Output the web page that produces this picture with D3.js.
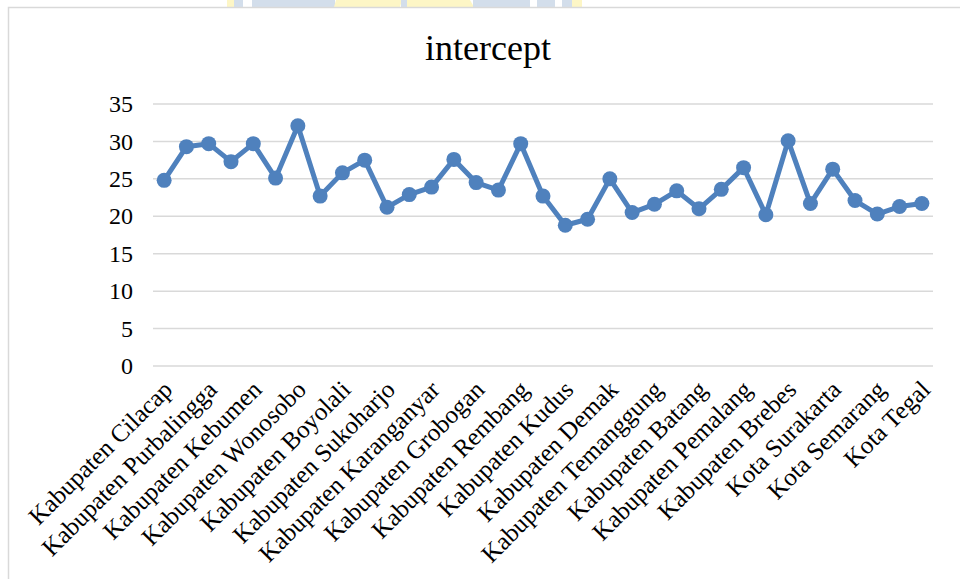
<!DOCTYPE html>
<html>
<head>
<meta charset="utf-8">
<script src="https://cdn.jsdelivr.net/npm/d3@7"></script>
<style>
  html, body { margin: 0; padding: 0; background: #ffffff; }
  svg { display: block; }
  text { font-family: "Liberation Serif", "Times New Roman", serif; fill: #000; }
</style>
</head>
<body>
<svg id="chart" width="960" height="579"></svg>
<script>
// Regencies and cities of Central Java, in their official order
const categories = [
  "Kabupaten Cilacap", "Kabupaten Banyumas", "Kabupaten Purbalingga", "Kabupaten Banjarnegara",
  "Kabupaten Kebumen", "Kabupaten Purworejo", "Kabupaten Wonosobo", "Kabupaten Magelang",
  "Kabupaten Boyolali", "Kabupaten Klaten", "Kabupaten Sukoharjo", "Kabupaten Wonogiri",
  "Kabupaten Karanganyar", "Kabupaten Sragen", "Kabupaten Grobogan", "Kabupaten Blora",
  "Kabupaten Rembang", "Kabupaten Pati", "Kabupaten Kudus", "Kabupaten Jepara",
  "Kabupaten Demak", "Kabupaten Semarang", "Kabupaten Temanggung", "Kabupaten Kendal",
  "Kabupaten Batang", "Kabupaten Pekalongan", "Kabupaten Pemalang", "Kabupaten Tegal",
  "Kabupaten Brebes", "Kota Magelang", "Kota Surakarta", "Kota Salatiga",
  "Kota Semarang", "Kota Pekalongan", "Kota Tegal"
];

// Intercept estimate for each region
const intercept = [
  24.8, 29.3, 29.7, 27.3, 29.7, 25.1, 32.1, 22.7,
  25.8, 27.5, 21.2, 22.9, 23.9, 27.6, 24.5, 23.5,
  29.7, 22.7, 18.8, 19.6, 25.0, 20.5, 21.6, 23.4,
  21.0, 23.6, 26.5, 20.2, 30.1, 21.7, 26.3, 22.1,
  20.3, 21.3, 21.7
];

const yTicks = [0, 5, 10, 15, 20, 25, 30, 35];
const title = "intercept";

const svg = d3.select("#chart");
const W = 960, H = 579;
const plot = { left: 153, right: 933, top: 104, bottom: 366 };

// Faint logo shapes peeking above the chart frame
const deco = svg.append("g");
const lb = "#d3deeb", yl = "#fdf6c6";
deco.append("rect").attr("x", 227).attr("y", 0).attr("width", 7).attr("height", 7).attr("fill", yl);
deco.append("rect").attr("x", 234).attr("y", 0).attr("width", 9).attr("height", 7).attr("fill", lb);
deco.append("rect").attr("x", 252).attr("y", 0).attr("width", 83).attr("height", 7).attr("fill", lb);
deco.append("path").attr("d", "M336,0 L402,0 L400,7 L334,7 Z").attr("fill", yl);
deco.append("rect").attr("x", 401).attr("y", 0).attr("width", 6).attr("height", 7).attr("fill", lb);
deco.append("path").attr("d", "M407,0 L470,0 L474,7 L407,7 Z").attr("fill", yl);
deco.append("rect").attr("x", 473).attr("y", 0).attr("width", 57).attr("height", 7).attr("fill", lb);
deco.append("rect").attr("x", 537).attr("y", 0).attr("width", 18).attr("height", 7).attr("fill", lb);
deco.append("rect").attr("x", 562).attr("y", 0).attr("width", 10).attr("height", 7).attr("fill", lb);
deco.append("rect").attr("x", 572).attr("y", 0).attr("width", 10).attr("height", 7).attr("fill", yl);

// Chart frame
svg.append("rect")
  .attr("x", 8.5).attr("y", 7.5)
  .attr("width", W + 20).attr("height", H + 20)
  .attr("fill", "#ffffff")
  .attr("stroke", "#d9d9d9").attr("stroke-width", 1.5);

const x = d3.scalePoint().domain(categories).range([plot.left, plot.right]).padding(0.5);
const y = d3.scaleLinear().domain([0, 35]).range([plot.bottom, plot.top]);

// Horizontal gridlines
svg.append("g")
  .selectAll("line")
  .data(yTicks)
  .join("line")
  .attr("x1", plot.left).attr("x2", plot.right)
  .attr("y1", d => y(d)).attr("y2", d => y(d))
  .attr("stroke", "#d9d9d9").attr("stroke-width", 1.5);

// Y axis labels
const yAxis = d3.axisLeft(y).tickValues(yTicks).tickSize(0).tickPadding(20);
const yg = svg.append("g").attr("transform", `translate(${plot.left},0)`).call(yAxis);
yg.select(".domain").remove();
yg.selectAll("text")
  .attr("font-size", 24)
  .attr("font-family", "'Liberation Serif', 'Times New Roman', serif")
  .attr("fill", "#000");

// X axis labels, every other category, rotated
const xg = svg.append("g").attr("transform", `translate(0,${plot.bottom})`)
  .call(d3.axisBottom(x).tickSize(0).tickFormat((d, i) => i % 2 === 0 ? d : ""));
xg.select(".domain").remove();
xg.selectAll(".tick text")
  .attr("font-size", 25)
  .attr("font-family", "'Liberation Serif', 'Times New Roman', serif")
  .attr("fill", "#000")
  .attr("text-anchor", "end")
  .attr("x", 0).attr("y", 0).attr("dy", "0.35em")
  .attr("transform", "translate(3,19) rotate(-45)");

// Title
svg.append("text")
  .attr("x", 488).attr("y", 60)
  .attr("text-anchor", "middle")
  .attr("font-size", 36)
  .text(title);

// Series line and markers
const color = "#4f81bd";
const pts = categories.map((c, i) => ({ c, v: intercept[i] }));
svg.append("path")
  .datum(pts)
  .attr("fill", "none")
  .attr("stroke", color)
  .attr("stroke-width", 5)
  .attr("stroke-linejoin", "round")
  .attr("d", d3.line().x(d => x(d.c)).y(d => y(d.v)));

svg.append("g")
  .selectAll("circle")
  .data(pts)
  .join("circle")
  .attr("cx", d => x(d.c))
  .attr("cy", d => y(d.v))
  .attr("r", 7.5)
  .attr("fill", color);
</script>
</body>
</html>
